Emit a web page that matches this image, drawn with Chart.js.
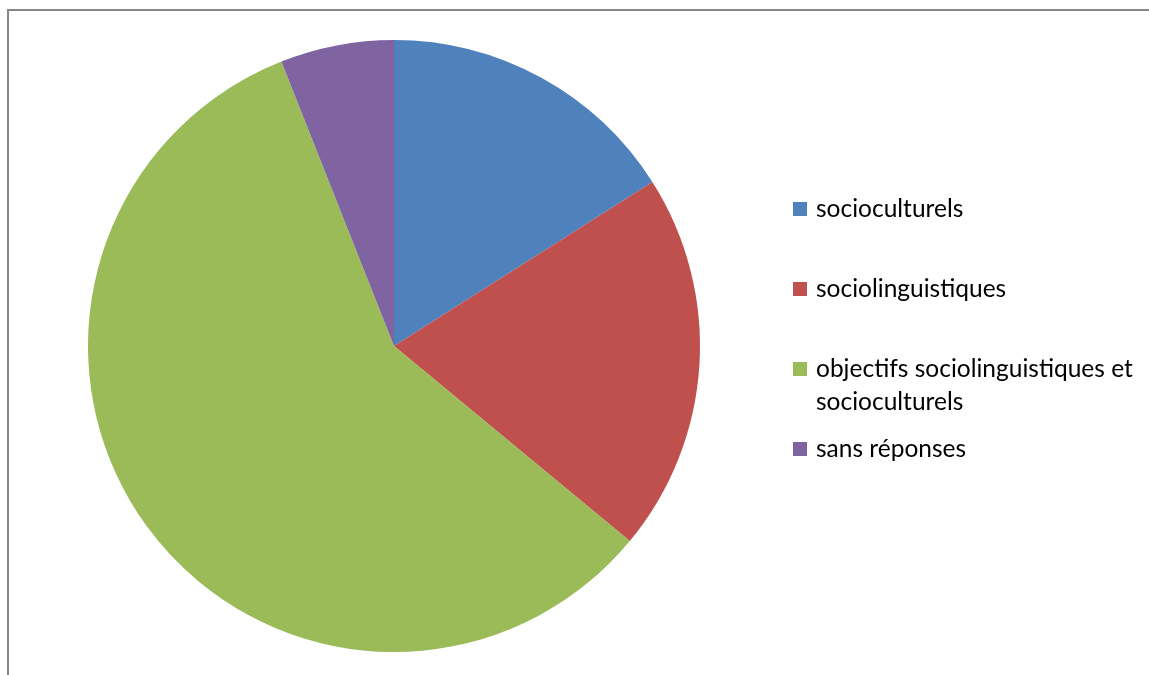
<!DOCTYPE html>
<html lang="fr">
<head>
<meta charset="utf-8">
<title>Objectifs</title>
<script src="https://cdn.jsdelivr.net/npm/chart.js@4.4.1/dist/chart.umd.min.js"></script>
<style>
  html, body { margin: 0; padding: 0; background: #fff; overflow: hidden; }
  #wrap { position: relative; width: 1149px; height: 675px; }
  #chart { position: absolute; left: 0; top: 0; }
  #legend {
    position: absolute;
    left: 793px;
    top: 191px;
    font-family: "Lato", "Open Sans", sans-serif;
    font-size: 24.5px;
    line-height: 33px;
    color: #000;
    white-space: nowrap;
  }
  .legend-item { display: flex; align-items: flex-start; min-height: 80px; }
  .legend-box { width: 14px; height: 14px; margin-top: 11px; margin-right: 9px; flex: none; }
</style>
</head>
<body>
<div id="wrap">
  <canvas id="chart" width="1149" height="675"></canvas>
  <div id="legend"></div>
</div>
<script>
const categories = [
  "socioculturels",
  "sociolinguistiques",
  ["objectifs sociolinguistiques et", "socioculturels"],
  "sans réponses"
];
const values = [16, 20, 58, 6];
const colors = ["#4F81BD", "#C0504D", "#9BBB59", "#8064A2"];

// chart frame: only the top and left edges fall inside the picture
const framePlugin = {
  id: "frame",
  beforeDraw(chart) {
    const ctx = chart.ctx;
    ctx.save();
    ctx.strokeStyle = "#868686";
    ctx.lineWidth = 2;
    ctx.beginPath();
    ctx.moveTo(8, chart.height + 5);
    ctx.lineTo(8, 10);
    ctx.lineTo(chart.width + 5, 10);
    ctx.stroke();
    ctx.restore();
  }
};

function renderLegend(chart) {
  const legendEl = document.getElementById("legend");
  legendEl.innerHTML = "";
  const items = chart.options.plugins.legend.labels.generateLabels(chart);
  items.forEach(item => {
    const el = document.createElement("div");
    el.className = "legend-item";
    const box = document.createElement("span");
    box.className = "legend-box";
    box.style.background = item.fillStyle;
    const text = document.createElement("span");
    const label = chart.data.labels[item.index];
    text.innerHTML = Array.isArray(label) ? label.join("<br>") : label;
    el.appendChild(box);
    el.appendChild(text);
    legendEl.appendChild(el);
  });
}

const chart = new Chart(document.getElementById("chart"), {
  type: "pie",
  data: {
    labels: categories,
    datasets: [
      {
        data: values,
        backgroundColor: colors,
        borderWidth: 0
      }
    ]
  },
  options: {
    responsive: false,
    animation: false,
    layout: {
      padding: { left: 88, right: 449, top: 40, bottom: 23 }
    },
    plugins: {
      legend: { display: false },
      tooltip: { enabled: false }
    }
  },
  plugins: [framePlugin]
});

renderLegend(chart);
</script>
</body>
</html>
